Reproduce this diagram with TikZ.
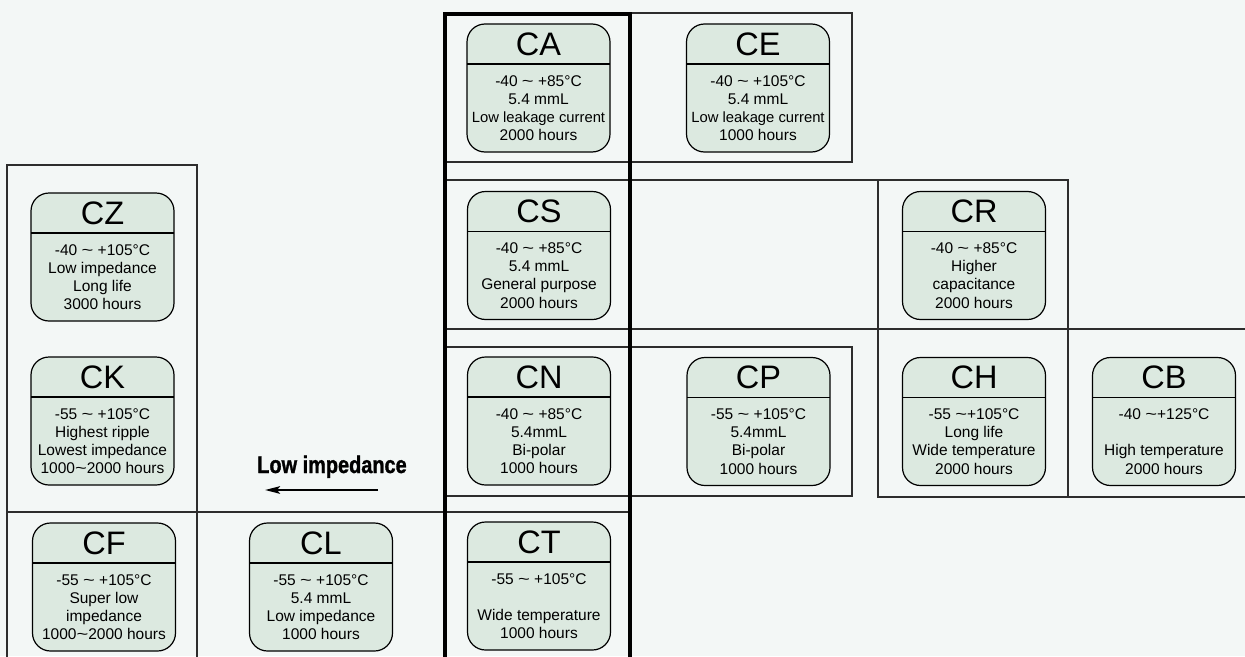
\documentclass[tikz,border=0pt]{standalone}
\usepackage{fontspec}
\setmainfont{Liberation Sans}
\newfontfamily\condfont[FakeStretch=0.83,FakeBold=1.2]{Liberation Sans}
\usetikzlibrary{arrows.meta,calc}
\definecolor{bgcol}{RGB}{243,247,246}
\definecolor{boxfill}{RGB}{220,233,224}
\definecolor{framecol}{RGB}{45,45,45}
\tikzset{
  capbox/.style={draw=black, line width=1.2pt, fill=boxfill, rounded corners=18pt,
    minimum width=143pt, minimum height=128pt, inner sep=0pt, outer sep=0pt},
  captitle/.style={inner sep=0pt, font=\fontsize{32.5}{34}\selectfont},
  capbody/.style={inner sep=0pt, align=center, font=\fontsize{15.5}{18.2}\selectfont},
  capline/.style={draw=black, line width=1.2pt},
  frame/.style={draw=framecol, line width=1.4pt},
  thickframe/.style={draw=black, line width=4.5pt},
  labeltext/.style={inner sep=0pt, font=\condfont\bfseries\fontsize{24}{26}\selectfont}
}
\newcommand\capunit[5]{%
  \node[capbox] (#1) at (#2,#3) {};
  \node[captitle] (#1-title) at ($(#1.north)+(0,20)$) {#4};
  \draw[capline] ($(#1.north west)+(0,40)$) -- ($(#1.north east)+(0,40)$);
  \node[capbody] (#1-body) at ($(#1.north)+(0,84)$) {#5};
}
\newcommand\wtl{\scalebox{1.3}[1]{\textasciitilde}}
\newcommand\tld{ \wtl{} }
\begin{document}
\begin{tikzpicture}[x=1pt,y=-1pt]
\useasboundingbox (0,0) rectangle (1245,656);
\fill[bgcol] (0,0) rectangle (1245,656);
\clip (0,0) rectangle (1245,656);
% frames
\draw[frame] (445,13) rectangle (852,162);
\draw[frame] (445,180) -- (1068,180) -- (1068,497) -- (878,497) -- (878,180);
\draw[frame] (445,329) -- (1245,329);
\draw[frame] (1068,497) -- (1245,497);
\draw[frame] (445,347) rectangle (852,496);
\draw[frame] (7,670) -- (7,165) -- (197,165) -- (197,670);
\draw[frame] (7,512) -- (630,512);
\draw[thickframe] (445,670) -- (445,14) -- (630,14) -- (630,670);
% units
\capunit{CA}{538.5}{88}{CA}{-40\tld+85°C\\5.4 mmL\\{\fontsize{14.8}{18.2}\selectfont Low leakage current}\\2000 hours}
\capunit{CE}{758}{88}{CE}{-40\tld+105°C\\5.4 mmL\\{\fontsize{14.8}{18.2}\selectfont Low leakage current}\\1000 hours}
\capunit{CZ}{102.5}{257}{CZ}{-40\tld+105°C\\Low impedance\\Long life\\3000 hours}
\capunit{CS}{539}{255.5}{CS}{-40\tld+85°C\\5.4 mmL\\General purpose\\2000 hours}
\capunit{CR}{974}{255.5}{CR}{-40\tld+85°C\\Higher\\capacitance\\2000 hours}
\capunit{CK}{102.5}{421}{CK}{-55\tld+105°C\\Highest ripple\\Lowest impedance\\1000\wtl2000 hours}
\capunit{CN}{539}{421}{CN}{-40\tld+85°C\\5.4mmL\\Bi-polar\\1000 hours}
\capunit{CP}{758.5}{421.5}{CP}{-55\tld+105°C\\5.4mmL\\Bi-polar\\1000 hours}
\capunit{CH}{974}{421.5}{CH}{-55 \wtl+105°C\\Long life\\Wide temperature\\2000 hours}
\capunit{CB}{1164}{421.5}{CB}{-40 \wtl+125°C\\\mbox{}\\High temperature\\2000 hours}
\capunit{CF}{104}{587}{CF}{-55\tld+105°C\\Super low\\impedance\\1000\wtl2000 hours}
\capunit{CL}{321}{587}{CL}{-55\tld+105°C\\5.4 mmL\\Low impedance\\1000 hours}
\capunit{CT}{539}{586}{CT}{-55\tld+105°C\\\mbox{}\\Wide temperature\\1000 hours}
% low impedance label and arrow
\node[labeltext, anchor=base] (lowimp) at (332,473) {Low impedance};
\coordinate (arrS) at (378,490);
\coordinate (arrE) at (265,490);
\draw[line width=2.2pt, -{Stealth[length=15pt,width=7.5pt,inset=3pt]}] (arrS) -- (arrE);
\end{tikzpicture}
\end{document}
